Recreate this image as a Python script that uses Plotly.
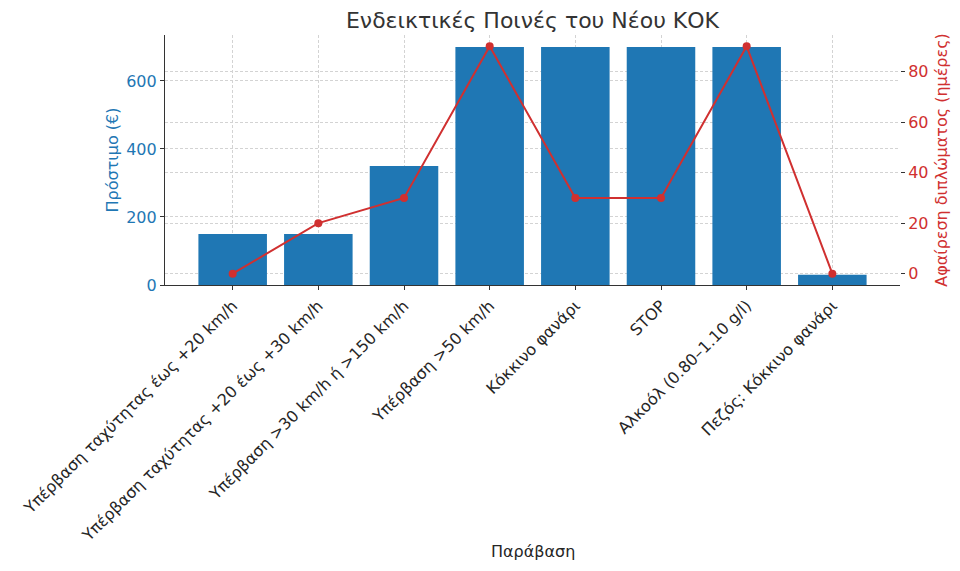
import plotly.graph_objects as go

categories = [
    "Υπέρβαση ταχύτητας έως +20 km/h",
    "Υπέρβαση ταχύτητας +20 έως +30 km/h",
    "Υπέρβαση >30 km/h ή >150 km/h",
    "Υπέρβαση >50 km/h",
    "Κόκκινο φανάρι",
    "STOP",
    "Αλκοόλ (0.80–1.10 g/l)",
    "Πεζός: Κόκκινο φανάρι",
]
fines = [150, 150, 350, 700, 700, 700, 700, 30]
suspension_days = [0, 20, 30, 90, 30, 30, 90, 0]

blue = "#1f77b4"
red = "#d03030"
grid = "#d3d3d3"
font = "DejaVu Sans"

fig = go.Figure()
fig.add_trace(go.Bar(x=categories, y=fines, marker_color=blue, marker_line_width=0,
                     width=0.8, name="Πρόστιμο (€)"))
fig.add_trace(go.Scatter(x=categories, y=suspension_days, yaxis="y2", mode="lines+markers",
                         line=dict(color=red, width=2), marker=dict(color=red, size=8),
                         name="Αφαίρεση διπλώματος (ημέρες)"))

# page body has an 8px margin, so the figure is 8px smaller than the window
fig.update_layout(
    width=952, height=563,
    margin=dict(l=155, r=57, t=27, b=286),
    paper_bgcolor="white", plot_bgcolor="white",
    font=dict(family=font, size=16, color="#262626"),
    showlegend=False,
    title=dict(text="Ενδεικτικές Ποινές του Νέου ΚΟΚ", xref="paper", x=0.5, xanchor="center",
               yref="container", y=1 - 12 / 563, yanchor="middle",
               font=dict(size=22, color="#333333")),
    xaxis=dict(
        type="category", range=[-0.79, 7.79], tickangle=-45,
        showline=True, linecolor="#333333", linewidth=1.2,
        ticks="outside", ticklen=4, tickcolor="#333333",
        showgrid=True, gridcolor=grid, griddash="3px,2px", gridwidth=0.8,
        tickfont=dict(size=16, color="#262626"),
    ),
    yaxis=dict(
        range=[0, 735], tickvals=[0, 200, 400, 600],
        showline=True, linecolor="#333333", linewidth=1.2,
        ticks="outside", ticklen=4, tickcolor="#333333",
        showgrid=True, gridcolor=grid, griddash="3px,2px", gridwidth=0.8,
        zeroline=False,
        tickfont=dict(size=16, color=blue),
        title=dict(text="Πρόστιμο (€)", font=dict(size=16, color=blue), standoff=3),
    ),
    yaxis2=dict(
        overlaying="y", side="right", range=[-4.5, 94.5],
        tickvals=[0, 20, 40, 60, 80],
        showline=False, ticks="outside", ticklen=4, tickcolor="#333333",
        showgrid=True, gridcolor=grid, griddash="3px,2px", gridwidth=0.8,
        zeroline=False,
        tickfont=dict(size=16, color=red),
        title=dict(text="Αφαίρεση διπλώματος (ημέρες)", font=dict(size=16, color=red), standoff=8),
    ),
    annotations=[dict(text="Παράβαση", xref="paper", yref="paper", x=0.5, y=-266 / 250,
                      xanchor="center", yanchor="middle", showarrow=False,
                      font=dict(size=16, color="#262626"))],
)

fig.write_html("out.html")
